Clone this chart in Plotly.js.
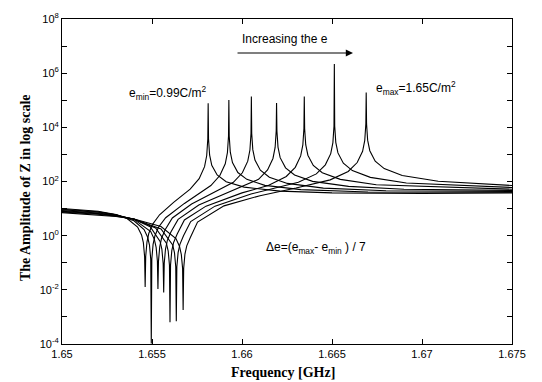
<!DOCTYPE html>
<html>
<head>
<meta charset="utf-8">
<script src="https://cdn.plot.ly/plotly-3.0.1.min.js"></script>
<style>html,body{margin:0;padding:0;background:#fff;}#chart{width:542px;height:382px;}</style>
</head>
<body>
<div id="chart"></div>
<script>
// Frequency [GHz] and |Z| samples, one curve per e value
const freq1 = [1.650, 1.652, 1.653, 1.6536, 1.6542, 1.65442, 1.65452, 1.65459, 1.65462, 1.65465, 1.65472, 1.65482, 1.65502, 1.65542, 1.6562, 1.65712, 1.65762, 1.65792, 1.65804, 1.6581, 1.65812, 1.65814, 1.6582, 1.65832, 1.65862, 1.65912, 1.66012, 1.66212, 1.665, 1.670, 1.675];
const amp1 = [10.1, 7.95, 6.0, 4.36, 2.09, 1.06, 0.55, 0.166, 0.0126, 0.17, 0.58, 1.2, 2.56, 5.9, 16.9, 52, 127, 352, 912, 3720, 7.8e4, 3800, 955, 398, 174, 98, 62, 44, 38, 36.5, 38];

const freq2 = [1.650, 1.652, 1.653, 1.654, 1.65456, 1.65476, 1.65486, 1.65493, 1.65496, 1.65499, 1.65506, 1.65516, 1.65536, 1.65576, 1.6568, 1.65827, 1.65877, 1.65907, 1.65919, 1.65925, 1.65927, 1.65929, 1.65935, 1.65947, 1.65977, 1.66027, 1.66127, 1.66327, 1.667, 1.671, 1.675];
const amp2 = [9.5, 7.6, 5.96, 3.55, 1.67, 0.87, 0.45, 0.136, 1.05e-4, 0.138, 0.475, 0.97, 2.04, 4.6, 15.5, 71, 166, 450, 1170, 4700, 1.02e5, 4780, 1210, 500, 214, 120, 72, 50, 41, 39.5, 40];

const freq3 = [1.650, 1.652, 1.653, 1.654, 1.65493, 1.65513, 1.65523, 1.6553, 1.65533, 1.65536, 1.65543, 1.65553, 1.65573, 1.65613, 1.6572, 1.6585, 1.65952, 1.66002, 1.66032, 1.66044, 1.6605, 1.66052, 1.66054, 1.6606, 1.66072, 1.66102, 1.66152, 1.66252, 1.66452, 1.668, 1.675];
const amp3 = [9.0, 7.3, 5.9, 3.98, 1.41, 0.73, 0.37, 0.114, 0.0107, 0.115, 0.39, 0.80, 1.66, 4.5, 14.8, 40, 93, 210, 562, 1450, 5870, 1.38e5, 5900, 1500, 615, 261, 144, 85, 57, 45.6, 43];

const freq4 = [1.650, 1.652, 1.653, 1.654, 1.6549, 1.65545, 1.65555, 1.65562, 1.65565, 1.65568, 1.65575, 1.65585, 1.65605, 1.65645, 1.6576, 1.6592, 1.66092, 1.66142, 1.66172, 1.66184, 1.6619, 1.66192, 1.66194, 1.662, 1.66212, 1.66242, 1.66292, 1.66392, 1.66592, 1.669, 1.675];
const amp4 = [8.4, 6.85, 5.66, 4.07, 2.13, 0.61, 0.31, 0.094, 0.0079, 0.096, 0.32, 0.66, 1.36, 4.0, 13.5, 38, 120, 268, 708, 1810, 7300, 7.9e4, 7350, 1860, 760, 320, 174, 101, 66, 52, 46.8];

const freq5 = [1.650, 1.652, 1.653, 1.654, 1.6552, 1.6558, 1.6559, 1.65597, 1.656, 1.65603, 1.6561, 1.6562, 1.6564, 1.6568, 1.658, 1.660, 1.66146, 1.66246, 1.66296, 1.66326, 1.66338, 1.66344, 1.66346, 1.66348, 1.66354, 1.66366, 1.66396, 1.66446, 1.66546, 1.66746, 1.675];
const amp5 = [7.9, 6.5, 5.5, 4.1, 1.94, 0.53, 0.27, 0.081, 6.3e-4, 0.083, 0.28, 0.56, 1.16, 3.8, 12.3, 38, 71, 153, 333, 880, 2230, 9000, 1.38e5, 9100, 2290, 933, 390, 210, 120, 76, 52];

const freq6 = [1.650, 1.652, 1.653, 1.654, 1.6555, 1.65615, 1.65625, 1.65632, 1.65635, 1.65638, 1.65645, 1.65655, 1.65675, 1.65715, 1.6585, 1.6605, 1.66313, 1.66413, 1.66463, 1.66493, 1.66505, 1.66511, 1.66513, 1.66515, 1.66521, 1.66533, 1.66563, 1.66613, 1.66713, 1.66913, 1.675];
const amp6 = [7.5, 6.2, 5.25, 4.1, 1.78, 0.457, 0.23, 0.070, 6.9e-4, 0.071, 0.237, 0.48, 1.0, 3.3, 12.3, 34.7, 93, 191, 412, 1070, 2740, 11000, 2.2e6, 11100, 2790, 1140, 473, 252, 142, 88, 60];

const freq7 = [1.650, 1.652, 1.653, 1.654, 1.6555, 1.65633, 1.65653, 1.65663, 1.6567, 1.65673, 1.65676, 1.65683, 1.65693, 1.65713, 1.65753, 1.659, 1.661, 1.663, 1.6649, 1.6659, 1.6664, 1.6667, 1.66682, 1.66688, 1.6669, 1.66692, 1.66698, 1.6671, 1.6674, 1.6679, 1.6689, 1.6709, 1.675];
const amp7 = [7.1, 5.9, 5.1, 4.1, 2.18, 0.78, 0.40, 0.20, 0.061, 1.8e-3, 0.062, 0.21, 0.42, 0.86, 3.16, 12.6, 30, 57.5, 115, 235, 501, 1300, 3300, 13300, 1.95e5, 13400, 3370, 1370, 565, 300, 167, 102, 71];

const xTickVals = [1.65, 1.655, 1.66, 1.665, 1.67, 1.675];
const xTickText = ['1.65', '1.655', '1.66', '1.665', '1.67', '1.675'];
const yTickVals = [1e-4, 1e-2, 1, 100, 1e4, 1e6, 1e8];
const yTickText = ['10<sup>-4</sup>', '10<sup>-2</sup>', '10<sup>0</sup>', '10<sup>2</sup>', '10<sup>4</sup>', '10<sup>6</sup>', '10<sup>8</sup>'];
const yMinorVals = [1e-3, 1e-1, 10, 1e3, 1e5, 1e7];

const freqs = [freq1, freq2, freq3, freq4, freq5, freq6, freq7];
const amps = [amp1, amp2, amp3, amp4, amp5, amp6, amp7];

const traces = freqs.map((f, i) => ({
  x: f, y: amps[i], type: 'scatter', mode: 'lines',
  line: {color: '#000', width: 1.1}, showlegend: false, hoverinfo: 'skip'
}));

const sans = 'Liberation Sans, Arial, sans-serif';
const serif = 'Liberation Serif, Times New Roman, serif';

const layout = {
  width: 542, height: 382,
  margin: {l: 62, r: 30, t: 19, b: 38},
  paper_bgcolor: '#fff', plot_bgcolor: '#fff',
  showlegend: false,
  xaxis: {
    range: [1.65, 1.675], tickvals: xTickVals, ticktext: xTickText,
    ticks: 'inside', ticklen: 5, tickcolor: '#000', mirror: 'ticks',
    showline: true, linecolor: '#000', linewidth: 1,
    showgrid: false, zeroline: false,
    tickfont: {family: sans, size: 11, color: '#000'}
  },
  yaxis: {
    type: 'log', range: [-4, 8], tickvals: yTickVals, ticktext: yTickText,
    ticks: 'inside', ticklen: 5, tickcolor: '#000', mirror: 'ticks',
    showline: true, linecolor: '#000', linewidth: 1,
    showgrid: false, zeroline: false,
    minor: {tickvals: yMinorVals, ticks: 'inside', ticklen: 5, tickcolor: '#000', showgrid: false},
    tickfont: {family: sans, size: 11, color: '#000'}
  },
  annotations: [
    {xref: 'paper', yref: 'paper', x: 0.491, y: -0.089, xanchor: 'center', yanchor: 'middle',
     text: '<b>Frequency [GHz]</b>', showarrow: false, font: {family: serif, size: 14, color: '#000'}},
    {xref: 'paper', yref: 'paper', x: -0.082, y: 0.48, xanchor: 'center', yanchor: 'middle',
     text: '<b>The Amplitude of Z in log scale</b>', textangle: -90, showarrow: false,
     font: {family: serif, size: 14, color: '#000'}},
    {xref: 'paper', yref: 'paper', x: 0.4956, y: 0.94, xanchor: 'center', yanchor: 'middle',
     text: 'Increasing the e', showarrow: false, font: {family: sans, size: 12, color: '#000'}},
    {xref: 'paper', yref: 'paper', x: 0.6467, y: 0.8954, text: '', showarrow: true,
     ax: -117, ay: 0, arrowhead: 2, arrowsize: 1.2, arrowwidth: 1.2, arrowcolor: '#000'},
    {xref: 'paper', yref: 'paper', x: 0.2356, y: 0.772, xanchor: 'center', yanchor: 'middle',
     text: 'e<sub>min</sub>=0.99C/m<sup>2</sup>', showarrow: false, font: {family: sans, size: 12, color: '#000'}},
    {xref: 'paper', yref: 'paper', x: 0.787, y: 0.788, xanchor: 'center', yanchor: 'middle',
     text: 'e<sub>max</sub>=1.65C/m<sup>2</sup>', showarrow: false, font: {family: sans, size: 12, color: '#000'}},
    {xref: 'paper', yref: 'paper', x: 0.564, y: 0.295, xanchor: 'center', yanchor: 'middle',
     text: '\u0394e=(e<sub>max</sub>- e<sub>min</sub> ) / 7', showarrow: false, font: {family: sans, size: 12, color: '#000'}}
  ]
};

Plotly.newPlot('chart', traces, layout, {displayModeBar: false, staticPlot: true});
</script>
</body>
</html>
